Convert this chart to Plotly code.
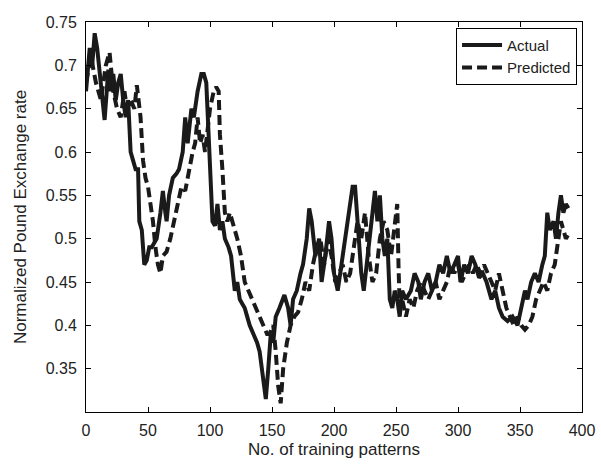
import plotly.graph_objects as go

actual_x = [0, 3, 5, 7, 9, 11, 13, 15, 18, 20, 22, 24, 26, 28, 30, 32, 34, 36, 38, 40, 42, 43, 45, 47, 49, 51, 53, 55, 57, 60, 62, 64, 65, 67, 70, 73, 75, 78, 80, 82, 85, 87, 90, 93, 95, 97, 99, 101, 102, 104, 106, 108, 110, 112, 115, 117, 120, 122, 124, 126, 128, 130, 132, 135, 138, 140, 142, 144, 145, 147, 149, 151, 153, 156, 160, 163, 165, 167, 170, 173, 175, 178, 180, 182, 185, 188, 190, 193, 196, 198, 200, 203, 206, 209, 212, 215, 217, 220, 222, 224, 227, 230, 233, 235, 237, 239, 241, 243, 245, 247, 249, 251, 253, 255, 258, 262, 265, 268, 270, 273, 276, 279, 282, 285, 288, 291, 294, 297, 300, 302, 305, 308, 311, 314, 317, 320, 323, 327, 330, 333, 336, 340, 344, 348, 351, 354, 356, 359, 362, 365, 368, 370, 372, 374, 377, 379, 381, 383, 385, 387, 389]
actual_y = [0.67, 0.72, 0.70, 0.737, 0.72, 0.69, 0.66, 0.637, 0.695, 0.67, 0.69, 0.66, 0.68, 0.69, 0.66, 0.64, 0.66, 0.60, 0.59, 0.58, 0.58, 0.52, 0.51, 0.47, 0.475, 0.49, 0.49, 0.495, 0.50, 0.53, 0.555, 0.53, 0.52, 0.55, 0.57, 0.575, 0.58, 0.60, 0.64, 0.61, 0.65, 0.64, 0.67, 0.69, 0.69, 0.68, 0.62, 0.55, 0.52, 0.515, 0.54, 0.51, 0.52, 0.50, 0.49, 0.48, 0.44, 0.45, 0.43, 0.425, 0.42, 0.41, 0.40, 0.39, 0.38, 0.37, 0.35, 0.33, 0.315, 0.35, 0.39, 0.38, 0.41, 0.42, 0.435, 0.42, 0.40, 0.43, 0.44, 0.46, 0.47, 0.50, 0.535, 0.52, 0.48, 0.50, 0.45, 0.48, 0.52, 0.50, 0.46, 0.44, 0.47, 0.50, 0.53, 0.56, 0.56, 0.50, 0.46, 0.44, 0.48, 0.52, 0.555, 0.52, 0.55, 0.50, 0.48, 0.50, 0.43, 0.42, 0.44, 0.43, 0.41, 0.44, 0.43, 0.44, 0.46, 0.45, 0.43, 0.45, 0.46, 0.44, 0.45, 0.47, 0.46, 0.48, 0.46, 0.47, 0.48, 0.45, 0.47, 0.46, 0.48, 0.47, 0.455, 0.46, 0.45, 0.43, 0.44, 0.42, 0.41, 0.405, 0.41, 0.40, 0.42, 0.44, 0.43, 0.45, 0.46, 0.45, 0.47, 0.48, 0.53, 0.51, 0.52, 0.50, 0.53, 0.55, 0.53, 0.54, 0.535]

pred_x = [0, 4, 8, 12, 16, 19, 22, 25, 28, 31, 33, 36, 39, 41, 44, 46, 48, 50, 52, 54, 56, 58, 60, 62, 65, 68, 71, 74, 77, 80, 83, 86, 88, 90, 92, 94, 96, 98, 100, 103, 105, 107, 108, 110, 112, 114, 116, 118, 120, 122, 125, 128, 131, 134, 137, 140, 143, 146, 148, 151, 153, 155, 157, 159, 162, 165, 168, 171, 174, 177, 180, 183, 186, 189, 192, 195, 198, 201, 204, 207, 210, 213, 216, 219, 222, 225, 228, 231, 234, 237, 240, 243, 246, 249, 251, 252, 253, 255, 258, 261, 264, 267, 270, 273, 276, 279, 282, 285, 288, 291, 294, 297, 300, 303, 306, 309, 312, 315, 318, 321, 324, 327, 330, 333, 336, 339, 342, 345, 348, 351, 354, 357, 360, 363, 366, 369, 372, 375, 378, 381, 383, 385, 387, 389]
pred_y = [0.68, 0.71, 0.68, 0.66, 0.70, 0.715, 0.67, 0.65, 0.64, 0.67, 0.65, 0.66, 0.65, 0.677, 0.64, 0.59, 0.57, 0.56, 0.54, 0.52, 0.49, 0.47, 0.46, 0.48, 0.485, 0.50, 0.52, 0.54, 0.56, 0.555, 0.58, 0.60, 0.61, 0.64, 0.61, 0.62, 0.60, 0.63, 0.65, 0.67, 0.675, 0.67, 0.62, 0.58, 0.53, 0.52, 0.53, 0.52, 0.51, 0.50, 0.48, 0.45, 0.44, 0.43, 0.42, 0.41, 0.40, 0.39, 0.39, 0.40, 0.37, 0.33, 0.31, 0.35, 0.38, 0.40, 0.41, 0.415, 0.43, 0.45, 0.44, 0.47, 0.49, 0.50, 0.47, 0.50, 0.48, 0.45, 0.46, 0.47, 0.45, 0.46, 0.49, 0.52, 0.50, 0.53, 0.48, 0.45, 0.46, 0.50, 0.52, 0.51, 0.48, 0.52, 0.54, 0.47, 0.42, 0.43, 0.41, 0.43, 0.42, 0.44, 0.45, 0.44, 0.43, 0.44, 0.45, 0.43, 0.44, 0.45, 0.47, 0.46, 0.47, 0.45, 0.46, 0.47, 0.46, 0.47, 0.46, 0.47, 0.46, 0.45, 0.44, 0.46, 0.44, 0.42, 0.41, 0.40, 0.41, 0.40, 0.395, 0.40, 0.41, 0.43, 0.44, 0.45, 0.44, 0.46, 0.47, 0.50, 0.52, 0.51, 0.50, 0.505]

x_ticks = [0, 50, 100, 150, 200, 250, 300, 350, 400]
y_ticks = [0.35, 0.4, 0.45, 0.5, 0.55, 0.6, 0.65, 0.7, 0.75]

FONT = "Liberation Sans, Arial, sans-serif"
fig = go.Figure()
fig.add_trace(go.Scatter(x=actual_x, y=actual_y, mode="lines", name="Actual",
                         line=dict(color="#1a1a1a", width=4)))
fig.add_trace(go.Scatter(x=pred_x, y=pred_y, mode="lines", name="Predicted",
                         line=dict(color="#1a1a1a", width=4, dash="10px,5px")))

axis_common = dict(showgrid=False, zeroline=False, showline=True, linecolor="black",
                   linewidth=1, mirror="allticks", ticks="inside", ticklen=5,
                   tickcolor="black", automargin=False,
                   tickfont=dict(family=FONT, size=16, color="#222"))
fig.update_xaxes(range=[0, 400], tickvals=x_ticks, ticktext=[str(v) for v in x_ticks],
                 ticklabelstandoff=4,
                 title=dict(text="No. of training patterns", font=dict(family=FONT, size=17, color="#222"), standoff=4),
                 **axis_common)
fig.update_yaxes(range=[0.3, 0.75], tickvals=y_ticks, ticktext=[f"{v:g}" for v in y_ticks],
                 ticklabelstandoff=5,
                 title=dict(text="Normalized Pound Exchange rate", font=dict(family=FONT, size=17, color="#222"), standoff=14),
                 **axis_common)
fig.update_layout(width=601, height=465, plot_bgcolor="white", paper_bgcolor="white",
                  margin=dict(l=86, r=19, t=22, b=53),
                  legend=dict(x=0.99, y=0.985, xanchor="right", yanchor="top",
                              bordercolor="black", borderwidth=1, bgcolor="white",
                              font=dict(family=FONT, size=15, color="#222"),
                              tracegroupgap=0, itemwidth=40))
fig.write_html("out.html", config={"displayModeBar": False},
               post_script="document.body.style.margin='0';document.body.style.padding='0';document.body.style.overflow='hidden';")
